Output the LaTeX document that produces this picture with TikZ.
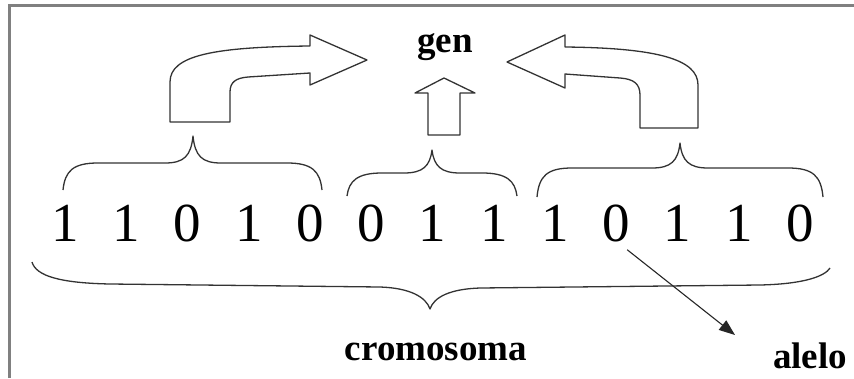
\documentclass[tikz,border=0pt]{standalone}
\usepackage{fontspec}
\setmainfont{Liberation Serif}
\usetikzlibrary{arrows.meta}

% brace over a group of bits: ends x1,x2 at y-end, flat part at yh, tip (xt,yt)
\newcommand\bitbrace[6]{%
  \draw[outline] (#1,#3) .. controls (#1+2,#4+8) and (#1+10,#4) .. (#1+35,#4)
    -- (#5-28,#4) .. controls (#5-9,#4) and (#5-2,#4-7) .. (#5,#6)
    .. controls (#5+2,#4-7) and (#5+9,#4) .. (#5+28,#4)
    -- (#2-35,#4) .. controls (#2-10,#4) and (#2-2,#4+8) .. (#2,#3);}

\begin{document}
\begin{tikzpicture}[x=1pt,y=-1pt,
  outline/.style={draw=black!80, line width=1.3pt, line join=round},
  digit/.style={font=\fontsize{55}{60}\selectfont, inner sep=0pt, anchor=center},
  word/.style={font=\fontsize{37}{40}\selectfont\bfseries, inner sep=0pt, anchor=base}]
\useasboundingbox (0,0) rectangle (854,378);

% frame
\draw[gray, line width=3pt] (9,378) -- (9,5) -- (854,5);

% the chromosome bits
\foreach \b [count=\i] in {1,1,0,1,0,0,1,1,1,0,1,1,0}
  \node[digit] (d\i) at ({65+61.25*(\i-1)},223) {\b};

% braces grouping the bits into genes
\bitbrace{63}{322}{190}{163}{193}{136}
\bitbrace{347}{517}{196}{173}{432}{150}
\bitbrace{537}{823}{197}{168}{680}{143}

% brace under the whole chromosome
\draw[outline] (32,262) .. controls (36,276) and (60,283) .. (110,284)
  -- (380,287) .. controls (410,288) and (426,297) .. (430,309)
  .. controls (434,297) and (450,289) .. (480,288)
  -- (760,285) .. controls (805,284) and (825,276) .. (830,268);

% block arrows towards "gen"
\draw[outline] (170,122) -- (170,82) .. controls (170,55) and (215,47) .. (310,46)
  -- (310,35) -- (367,60) -- (310,85) -- (310,73) -- (248,77)
  .. controls (236,78) and (230,82) .. (230,92) -- (230,122) -- cycle;
\draw[outline] (428,135) -- (428,93) -- (415,93) -- (444,78) -- (475,93)
  -- (460,93) -- (460,135) -- cycle;
\draw[outline] (698,128) -- (698,85) .. controls (698,60) and (660,48) .. (565,47)
  -- (565,35) -- (507,62) -- (565,88) -- (565,74) -- (620,78)
  .. controls (634,79) and (640,84) .. (640,95) -- (640,128) -- cycle;

% labels
\node[word] (gen) at (445,52) {gen};
\node[word] (cromosoma) at (436,360) {cromosoma};
\node[word] (alelo) at (810,368) {alelo};

% arrow marking one allele
\coordinate (alelostart) at ([xshift=-3pt,yshift=-8pt]d10.south east);
\coordinate (alelotip) at (735,335);
\draw[black!85, line width=1.1pt, -{Triangle[length=16pt,width=12pt]}] (alelostart) -- (alelotip);
\end{tikzpicture}
\end{document}
